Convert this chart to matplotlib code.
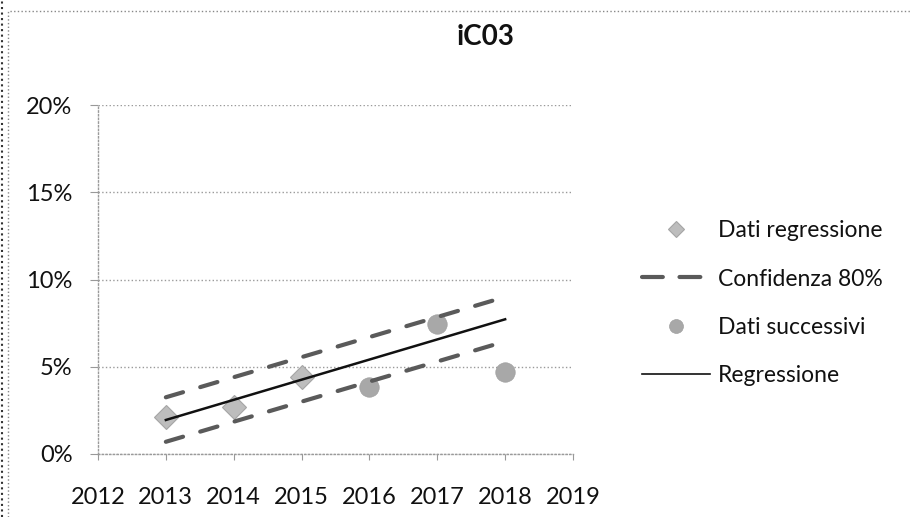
import matplotlib
matplotlib.use("Agg")
import matplotlib.pyplot as plt
from matplotlib.lines import Line2D
from matplotlib.ticker import FuncFormatter

plt.rcParams['font.family'] = ['Lato', 'DejaVu Sans']

title = "iC03"
reg_years = [2013, 2014, 2015]
reg_values = [2.12, 2.69, 4.41]
next_years = [2016, 2017, 2018]
next_values = [3.84, 7.43, 4.72]
line_years = [2013, 2018]
regression = [1.95, 7.72]
conf_upper = [3.25, 9.0]
conf_lower = [0.70, 6.45]
xticks = [2012, 2013, 2014, 2015, 2016, 2017, 2018, 2019]
yticks = [0, 5, 10, 15, 20]
labels = ["Dati regressione", "Confidenza 80%", "Dati successivi", "Regressione"]

W, H = 911, 517
fig = plt.figure(figsize=(W / 100, H / 100), dpi=100)
ax = fig.add_axes([98 / W, 1 - 454 / H, (573 - 98) / W, (454 - 105) / H])

dash_color = '#5a5a5a'
dashes = (4.3, 4.3)
ax.plot(line_years, conf_upper, color=dash_color, lw=3.0, dashes=dashes, dash_capstyle='round', zorder=3)
ax.plot(line_years, conf_lower, color=dash_color, lw=3.0, dashes=dashes, dash_capstyle='round', zorder=3)
ax.plot(line_years, regression, color='#111111', lw=1.8, zorder=4)
ax.plot(reg_years, reg_values, ls='none', marker='D', ms=12, mfc='#bdbdbd', mec='#a5a5a5', mew=0.8, zorder=2)
ax.plot(next_years, next_values, ls='none', marker='o', ms=14, mfc='#a8a8a8', mec='#a0a0a0', mew=0.5, zorder=2)

ax.set_xlim(2012, 2019)
ax.set_ylim(0, 20)
ax.set_xticks(xticks)
ax.set_yticks(yticks)
ax.yaxis.set_major_formatter(FuncFormatter(lambda v, p: f"{int(v)}%"))
ax.tick_params(axis='both', labelsize=17, colors='#999999', labelcolor='#111111')
ax.tick_params(axis='y', length=5.8, width=0.8, pad=12.5)
ax.tick_params(axis='x', length=4.3, width=0.8, pad=19.5)
for t in ax.get_xticklines() + ax.get_yticklines():
    t.set_linestyle(':')

ax.grid(axis='y', color='#9a9a9a', ls=':', lw=1.0)
for s in ['top', 'right']:
    ax.spines[s].set_visible(False)
for s in ['left', 'bottom']:
    ax.spines[s].set_color('#9a9a9a')
    ax.spines[s].set_linestyle(':')
    ax.spines[s].set_linewidth(1.0)

fig.text(486 / W, 1 - 37 / H, title, ha='center', va='center', fontsize=20, fontweight='bold', color='#111111')

handles = [
    Line2D([], [], ls='none', marker='D', ms=8, mfc='#bdbdbd', mec='#a5a5a5', mew=0.8),
    Line2D([], [], color=dash_color, lw=3.0, dashes=(5.0, 4.0), dash_capstyle='round'),
    Line2D([], [], ls='none', marker='o', ms=10, mfc='#a8a8a8', mec='#a0a0a0', mew=0.5),
    Line2D([], [], color='#111111', lw=1.2),
]
leg = fig.legend(handles, labels, loc='upper left', bbox_to_anchor=(642 / W, 1 - 220 / H),
                 frameon=False, fontsize=16.5, handlelength=2.95, handletextpad=0.35,
                 labelspacing=1.2, borderpad=0, borderaxespad=0)
for t in leg.get_texts():
    t.set_color('#111111')

# outer chart border (dotted)
fig.add_artist(Line2D([8 / W, 8 / W, 1.0], [0.0, 1 - 11 / H, 1 - 11 / H], transform=fig.transFigure,
                      color='#888888', ls=':', lw=1.0))
fig.add_artist(Line2D([1.5 / W, 1.5 / W], [0.0, 1.0], transform=fig.transFigure,
                      color='#333333', ls=':', lw=1.5))

fig.savefig('out.png', dpi=100)
